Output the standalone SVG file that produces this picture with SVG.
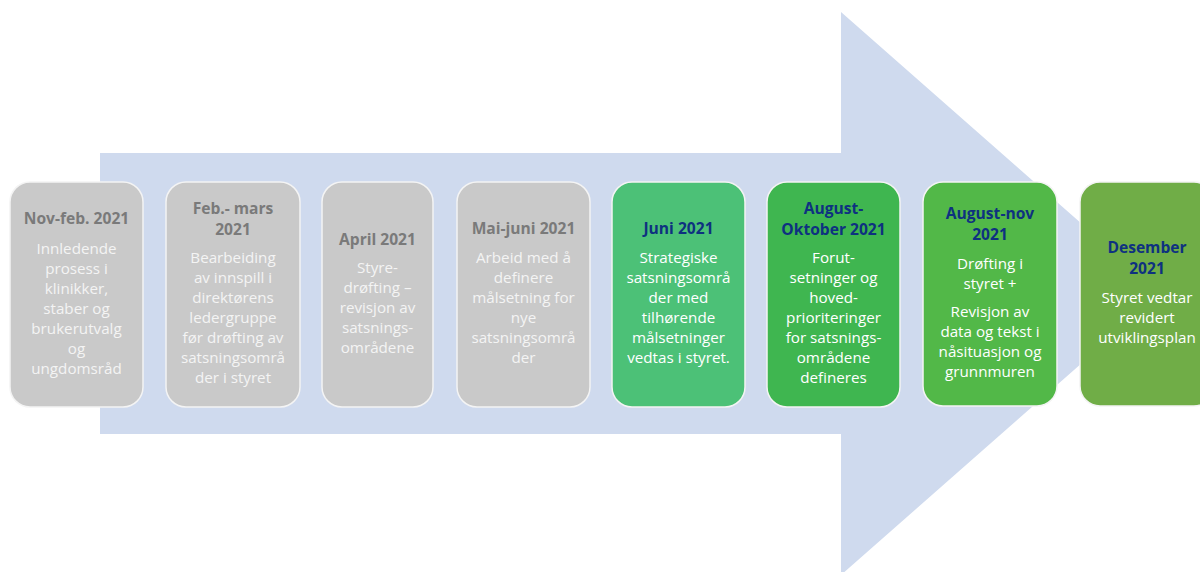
<svg xmlns="http://www.w3.org/2000/svg" width="1200" height="572" viewBox="0 0 1200 572">
<style>
.box{stroke:#F4F4F4;stroke-width:1.5}
.gray{fill:#C9C9C9}
.t{font-family:"Open Sans","Noto Sans",sans-serif;font-size:15.2px;text-anchor:middle}
.gt{fill:#7A7A7A;font-weight:bold;font-size:15.6px}
.gb{fill:#F4F4F4}
.nt{fill:#0E3180;font-weight:bold;font-size:15.6px}
.wb{fill:#FFFFFF}
</style>
<rect width="1200" height="572" fill="#FFFFFF"/>
<g id="arrow">
<polygon points="100,153 841,153 841,12 1161,293.5 841,575 841,434 100,434" fill="#CFDAEE"/>
</g>
<g id="connectors"></g>
<g id="n1">
<rect class="box gray" x="10" y="182" width="133" height="225" rx="20"/>
<text class="t gt" x="76.5" y="224">Nov-feb. 2021</text>
<text class="t gb" x="76.5" y="254">Innledende</text>
<text class="t gb" x="76.5" y="274">prosess i</text>
<text class="t gb" x="76.5" y="294">klinikker,</text>
<text class="t gb" x="76.5" y="314">staber og</text>
<text class="t gb" x="76.5" y="334">brukerutvalg</text>
<text class="t gb" x="76.5" y="354">og</text>
<text class="t gb" x="76.5" y="374">ungdomsråd</text>
</g>
<g id="n2">
<rect class="box gray" x="166" y="182" width="134" height="225" rx="20"/>
<text class="t gt" x="233" y="214">Feb.- mars</text>
<text class="t gt" x="233" y="235">2021</text>
<text class="t gb" x="233" y="263">Bearbeiding</text>
<text class="t gb" x="233" y="283">av innspill i</text>
<text class="t gb" x="233" y="303">direktørens</text>
<text class="t gb" x="233" y="323">ledergruppe</text>
<text class="t gb" x="233" y="343">før drøfting av</text>
<text class="t gb" x="233" y="363">satsningsområ</text>
<text class="t gb" x="233" y="383">der i styret</text>
</g>
<g id="n3">
<rect class="box gray" x="322" y="182" width="111" height="225" rx="20"/>
<text class="t gt" x="377.5" y="245">April 2021</text>
<text class="t gb" x="377.5" y="273">Styre-</text>
<text class="t gb" x="377.5" y="293">drøfting –</text>
<text class="t gb" x="377.5" y="313">revisjon av</text>
<text class="t gb" x="377.5" y="333">satsnings-</text>
<text class="t gb" x="377.5" y="353">områdene</text>
</g>
<g id="n4">
<rect class="box gray" x="457" y="182" width="133" height="225" rx="20"/>
<text class="t gt" x="523.5" y="234">Mai-juni 2021</text>
<text class="t gb" x="523.5" y="263">Arbeid med å</text>
<text class="t gb" x="523.5" y="283">definere</text>
<text class="t gb" x="523.5" y="303">målsetning for</text>
<text class="t gb" x="523.5" y="323">nye</text>
<text class="t gb" x="523.5" y="343">satsningsområ</text>
<text class="t gb" x="523.5" y="363">der</text>
</g>
<g id="n5">
<rect class="box" x="612" y="182" width="133" height="225" rx="20" fill="#4CC177"/>
<text class="t nt" x="678.5" y="234">Juni 2021</text>
<text class="t wb" x="678.5" y="263">Strategiske</text>
<text class="t wb" x="678.5" y="283">satsningsområ</text>
<text class="t wb" x="678.5" y="303">der med</text>
<text class="t wb" x="678.5" y="323">tilhørende</text>
<text class="t wb" x="678.5" y="343">målsetninger</text>
<text class="t wb" x="678.5" y="363">vedtas i styret.</text>
</g>
<g id="n6">
<rect class="box" x="767" y="182" width="133" height="225" rx="20" fill="#3FB650"/>
<text class="t nt" x="833.5" y="214">August-</text>
<text class="t nt" x="833.5" y="235">Oktober 2021</text>
<text class="t wb" x="833.5" y="263">Forut-</text>
<text class="t wb" x="833.5" y="283">setninger og</text>
<text class="t wb" x="833.5" y="303">hoved-</text>
<text class="t wb" x="833.5" y="323">prioriteringer</text>
<text class="t wb" x="833.5" y="343">for satsnings-</text>
<text class="t wb" x="833.5" y="363">områdene</text>
<text class="t wb" x="833.5" y="383">defineres</text>
</g>
<g id="n7">
<rect class="box" x="923" y="182" width="134" height="224" rx="20" fill="#52B848"/>
<text class="t nt" x="990" y="219">August-nov</text>
<text class="t nt" x="990" y="240">2021</text>
<text class="t wb" x="990" y="269">Drøfting i</text>
<text class="t wb" x="990" y="289">styret +</text>
<text class="t wb" x="990" y="317">Revisjon av</text>
<text class="t wb" x="990" y="337">data og tekst i</text>
<text class="t wb" x="990" y="357">nåsituasjon og</text>
<text class="t wb" x="990" y="377">grunnmuren</text>
</g>
<g id="n8">
<rect class="box" x="1080" y="182" width="134" height="224" rx="20" fill="#70AD47"/>
<text class="t nt" x="1147" y="253">Desember</text>
<text class="t nt" x="1147" y="274">2021</text>
<text class="t wb" x="1147" y="303">Styret vedtar</text>
<text class="t wb" x="1147" y="323">revidert</text>
<text class="t wb" x="1147" y="343">utviklingsplan</text>
</g>
</svg>
